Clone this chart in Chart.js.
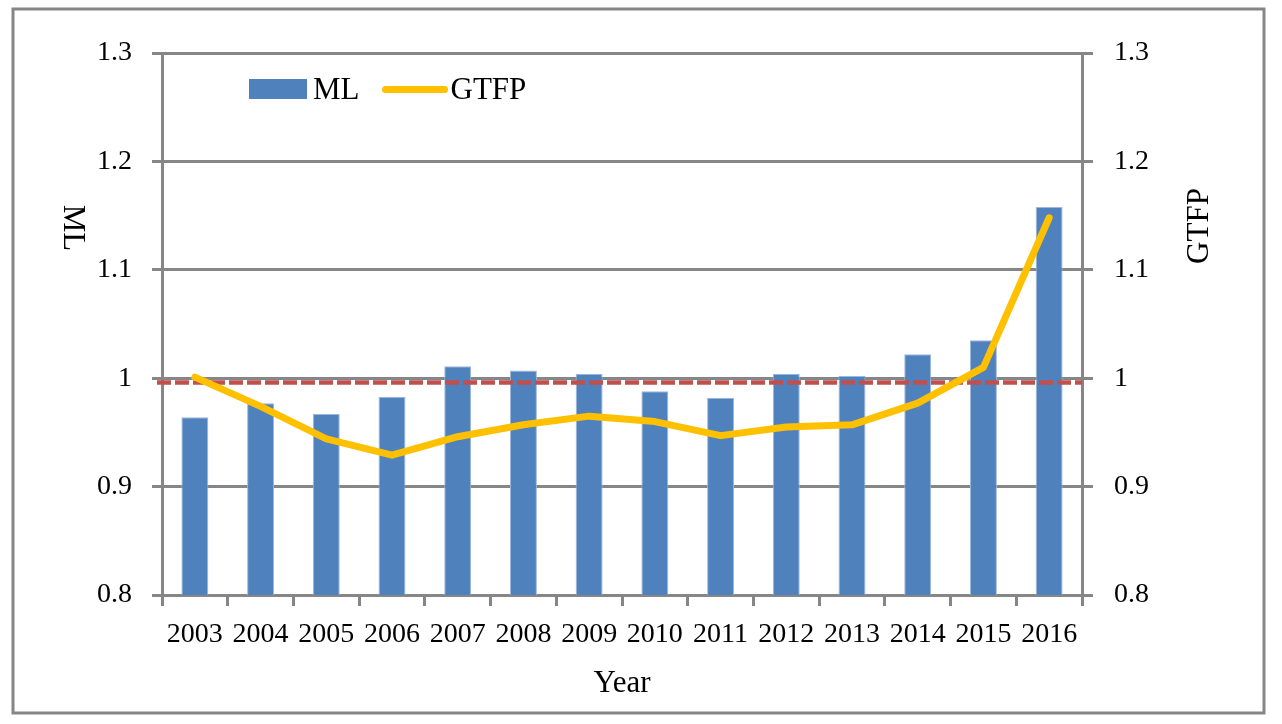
<!DOCTYPE html>
<html>
<head>
<meta charset="utf-8">
<script src="https://cdn.jsdelivr.net/npm/chart.js@4"></script>
<style>
  body { margin: 0; background: #fff; }
  #wrap { position: relative; width: 1282px; height: 724px; }
  #legend { position: absolute; left: 249px; top: 70px; height: 38px; display: flex; align-items: center;
            font-family: "Liberation Serif", serif; font-size: 31px; color: #000; }
  .box { width: 58px; height: 20px; background: #4F81BD; margin-right: 6px; }
  .ln { width: 66px; height: 7px; border-radius: 4px; background: #FFC000; margin-left: 22px; margin-right: 3px; }
</style>
</head>
<body>
<div id="wrap">
  <canvas id="myChart" width="1282" height="724"></canvas>
  <div id="legend"><div class="box"></div><span>ML</span><div class="ln"></div><span>GTFP</span></div>
</div>
<script>
// values
const years = ['2003', '2004', '2005', '2006', '2007', '2008', '2009', '2010', '2011', '2012', '2013', '2014', '2015', '2016'];
const mlValues = [0.964, 0.977, 0.967, 0.983, 1.011, 1.007, 1.004, 0.988, 0.982, 1.004, 1.002, 1.022, 1.035, 1.158];
const gtfpValues = [1.001, 0.974, 0.944, 0.929, 0.946, 0.957, 0.965, 0.960, 0.947, 0.955, 0.957, 0.977, 1.010, 1.148];
const refValue = 0.996;
const yMin = 0.8;
const yMax = 1.3;
const yStep = 0.1;

const gray = '#868686';
const fontFamily = '"Liberation Serif", serif';

// 1.0 is written as "1" in the original
const tickText = (v) => String(Math.round(v * 10) / 10);

const frameAndTitles = {
    id: 'frameAndTitles',
    afterDatasetDraw(chart, args) {
        // dashed reference line, above the bars and below the GTFP line
        if (args.index !== 1) return;
        const ctx = chart.ctx;
        const y = chart.scales.y.getPixelForValue(refValue);
        ctx.save();
        ctx.strokeStyle = '#C0504D';
        ctx.lineWidth = 4.5;
        ctx.setLineDash([14, 4]);
        ctx.beginPath();
        ctx.moveTo(chart.chartArea.left - 5, y);
        ctx.lineTo(chart.chartArea.right, y);
        ctx.stroke();
        ctx.restore();
    },
    afterDraw(chart) {
        const ctx = chart.ctx;
        ctx.save();
        ctx.strokeStyle = gray;
        ctx.lineWidth = 3;
        ctx.strokeRect(13, 9, 1251, 704);

        ctx.fillStyle = '#000';
        ctx.font = '31px ' + fontFamily;
        ctx.textAlign = 'center';
        ctx.textBaseline = 'middle';

        ctx.save();
        ctx.translate(72, 228);
        ctx.rotate(Math.PI / 2);
        ctx.fillText('ML', 0, 0);
        ctx.restore();

        ctx.save();
        ctx.translate(1200, 226);
        ctx.rotate(-Math.PI / 2);
        ctx.fillText('GTFP', 0, 0);
        ctx.restore();

        ctx.restore();
    }
};

const ctx = document.getElementById('myChart');

new Chart(ctx, {
    type: 'bar',
    data: {
        labels: years,
        datasets: [
            {
                type: 'line',
                label: 'GTFP',
                data: gtfpValues,
                yAxisID: 'y2',
                borderColor: '#FFC000',
                borderWidth: 7,
                borderCapStyle: 'round',
                borderJoinStyle: 'round',
                pointRadius: 0,
                tension: 0,
                fill: false
            },
            {
                type: 'bar',
                label: 'ML',
                data: mlValues,
                yAxisID: 'y',
                backgroundColor: '#4F81BD',
                borderColor: '#9cb7dc',
                borderWidth: { top: 1, left: 1, right: 1, bottom: 0 },
                categoryPercentage: 1,
                barPercentage: 0.41
            }
        ]
    },
    options: {
        responsive: false,
        animation: false,
        layout: { padding: { top: 53, left: 0, right: 0, bottom: 0 } },
        plugins: {
            legend: { display: false },
            tooltip: { enabled: false }
        },
        scales: {
            x: {
                offset: true,
                grid: { offset: true, drawOnChartArea: false, drawTicks: true, tickLength: 11, color: gray, lineWidth: 3 },
                border: { display: true, color: gray, width: 3 },
                ticks: { color: '#000', font: { family: fontFamily, size: 28 }, padding: 12, maxRotation: 0, autoSkip: false },
                title: { display: true, text: 'Year', color: '#000', font: { family: fontFamily, size: 31 }, padding: { top: 0, bottom: 22 } },
                afterFit: (scale) => { scale.height = 129; }
            },
            y: {
                position: 'left',
                min: yMin,
                max: yMax,
                ticks: { stepSize: yStep, color: '#000', font: { family: fontFamily, size: 28 }, padding: 20, callback: tickText },
                grid: { color: gray, lineWidth: 3, tickLength: 10 },
                border: { display: true, color: gray, width: 3 },
                afterFit: (scale) => { scale.width = 162; }
            },
            y2: {
                position: 'right',
                min: yMin,
                max: yMax,
                ticks: { stepSize: yStep, color: '#000', font: { family: fontFamily, size: 28 }, padding: 21, callback: tickText },
                grid: { drawOnChartArea: false, color: gray, lineWidth: 3, tickLength: 11 },
                border: { display: true, color: gray, width: 3 },
                afterFit: (scale) => { scale.width = 200; }
            }
        }
    },
    plugins: [frameAndTitles]
});
</script>
</body>
</html>
